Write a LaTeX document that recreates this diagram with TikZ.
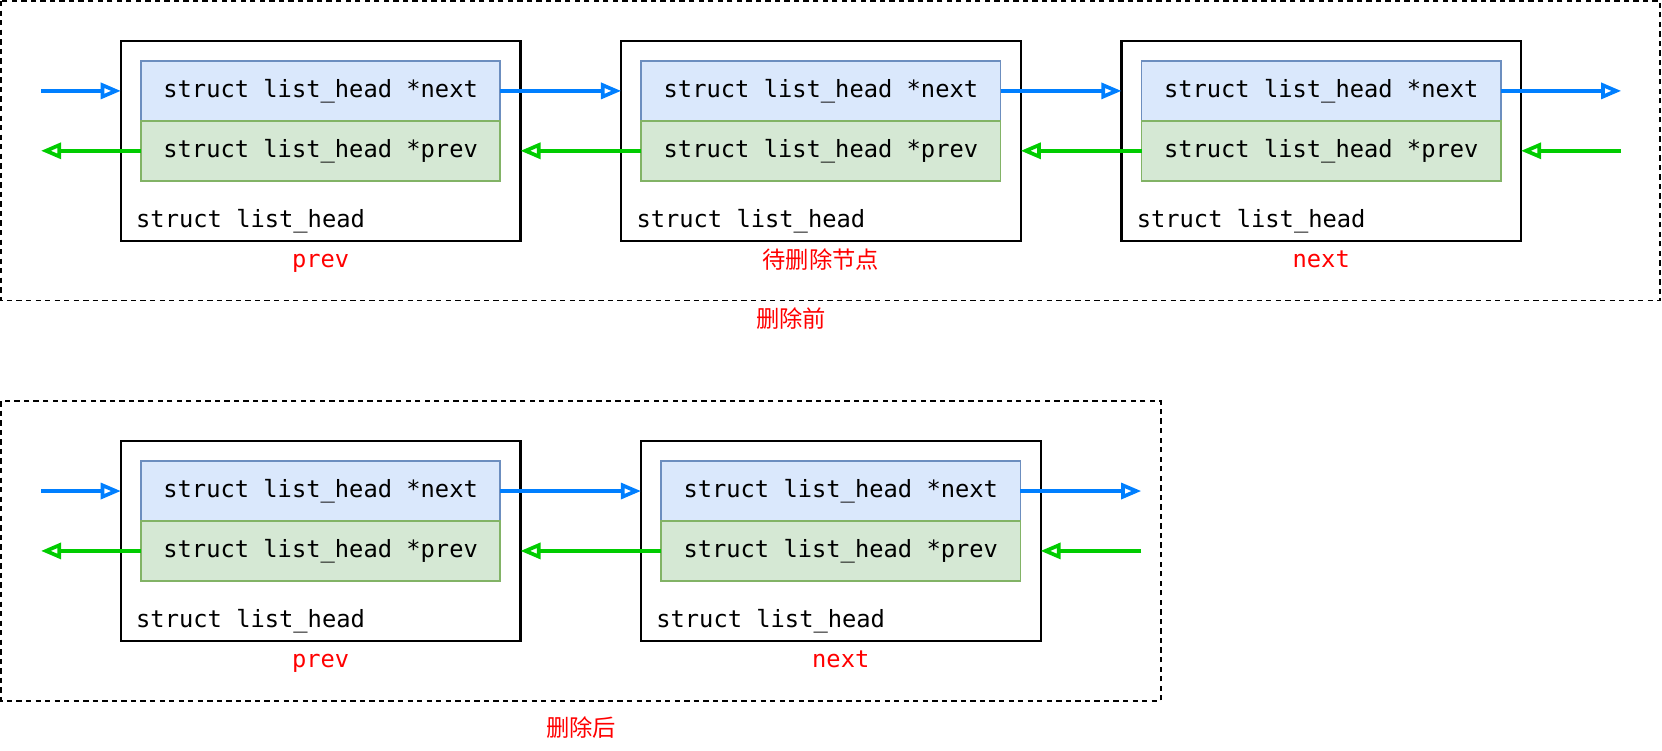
\documentclass[tikz,border=0pt]{standalone}
\usepackage{fontspec}
\newfontfamily\monof{DejaVu Sans Mono}
\newfontfamily\cjkf{Noto Sans CJK SC}
\usetikzlibrary{arrows.meta}
\definecolor{arrblue}{HTML}{007FFF}
\definecolor{arrgreen}{HTML}{00CC00}
\definecolor{nfill}{HTML}{DAE8FC}
\definecolor{ndraw}{HTML}{6C8EBF}
\definecolor{pfill}{HTML}{D5E8D4}
\definecolor{pdraw}{HTML}{82B366}
\begin{document}
\begin{tikzpicture}[x=1pt,y=-1pt,
  outerbox/.style={draw=black, line width=2pt, minimum width=377pt, minimum height=188.5pt, inner sep=0pt, outer sep=0pt},
  field/.style={line width=1.6pt, minimum width=339pt, minimum height=56.5pt, inner sep=0pt, outer sep=0pt, font=\monof\fontsize{22.4}{26}\selectfont},
  nextf/.style={field, draw=ndraw, fill=nfill},
  prevf/.style={field, draw=pdraw, fill=pfill},
  boxlbl/.style={anchor=base west, inner sep=0pt, font=\monof\fontsize{22.4}{26}\selectfont},
  redlbl/.style={anchor=base, text=red, inner sep=0pt, font=\monof\fontsize{22.4}{26}\selectfont},
  redcjk/.style={text=red, inner sep=0pt, font=\cjkf\fontsize{22}{26}\selectfont},
  nxarrow/.style={draw=arrblue, line width=3.5pt, -{Triangle[open, length=19pt, width=15pt]}},
  pvarrow/.style={draw=arrgreen, line width=3.5pt, -{Triangle[open, length=19pt, width=15pt]}},
  frame/.style={draw=black, line width=1.8pt, dash pattern=on 5pt off 4pt}
]
\useasboundingbox (0,0) rectangle (1568,707.6);

% ---------- before deletion ----------
\draw[frame] (1,1) rectangle (1566.5,283.5);

\node[outerbox] (t1) at (302.5,132.75) {};
\node[outerbox] (t2) at (774.5,132.75) {};
\node[outerbox] (t3) at (1246.5,132.75) {};

\node[nextf] (t1n) at (302.5,85.75) {struct list\_head *next};
\node[prevf] (t1p) at (302.5,142.25) {struct list\_head *prev};
\node[nextf] (t2n) at (774.5,85.75) {struct list\_head *next};
\node[prevf] (t2p) at (774.5,142.25) {struct list\_head *prev};
\node[nextf] (t3n) at (1246.5,85.75) {struct list\_head *next};
\node[prevf] (t3p) at (1246.5,142.25) {struct list\_head *prev};

\node[boxlbl] (t1l) at (128.3,214.5) {struct list\_head};
\node[boxlbl] (t2l) at (600.3,214.5) {struct list\_head};
\node[boxlbl] (t3l) at (1072.3,214.5) {struct list\_head};

\node[redlbl] (t1name) at (302.5,252.5) {prev};
\node[redcjk] (t2name) at (774.5,245) {待删除节点};
\node[redlbl] (t3name) at (1246.5,252.5) {next};
\node[redcjk] (ttitle) at (746.3,301) {删除前};

\coordinate (tinL) at (38.7,85.75);
\coordinate (toutL) at (38.7,142.25);
\coordinate (toutR) at (1529.5,85.75);
\coordinate (tinR) at (1529.5,142.25);

\draw[nxarrow] (tinL) -- (tinL -| t1.west);
\draw[nxarrow] (t1n.east) -- (t1n.east -| t2.west);
\draw[nxarrow] (t2n.east) -- (t2n.east -| t3.west);
\draw[nxarrow] (t3n.east) -- (toutR);

\draw[pvarrow] (t1p.west) -- (toutL);
\draw[pvarrow] (t2p.west) -- (t2p.west -| t1.east);
\draw[pvarrow] (t3p.west) -- (t3p.west -| t2.east);
\draw[pvarrow] (tinR) -- (tinR -| t3.east);

% ---------- after deletion ----------
\draw[frame] (1,378.5) rectangle (1095.3,661);

\node[outerbox] (b1) at (302.5,510.25) {};
\node[outerbox] (b2) at (793.2,510.25) {};

\node[nextf] (b1n) at (302.5,463.25) {struct list\_head *next};
\node[prevf] (b1p) at (302.5,519.75) {struct list\_head *prev};
\node[nextf] (b2n) at (793.2,463.25) {struct list\_head *next};
\node[prevf] (b2p) at (793.2,519.75) {struct list\_head *prev};

\node[boxlbl] (b1l) at (128.3,592) {struct list\_head};
\node[boxlbl] (b2l) at (619,592) {struct list\_head};

\node[redlbl] (b1name) at (302.5,630) {prev};
\node[redlbl] (b2name) at (793.2,630) {next};
\node[redcjk] (btitle) at (548.3,686) {删除后};

\coordinate (binL) at (38.7,463.25);
\coordinate (boutL) at (38.7,519.75);
\coordinate (boutR) at (1076.7,463.25);
\coordinate (binR) at (1076.7,519.75);

\draw[nxarrow] (binL) -- (binL -| b1.west);
\draw[nxarrow] (b1n.east) -- (b1n.east -| b2.west);
\draw[nxarrow] (b2n.east) -- (boutR);

\draw[pvarrow] (b1p.west) -- (boutL);
\draw[pvarrow] (b2p.west) -- (b2p.west -| b1.east);
\draw[pvarrow] (binR) -- (binR -| b2.east);
\end{tikzpicture}
\end{document}
